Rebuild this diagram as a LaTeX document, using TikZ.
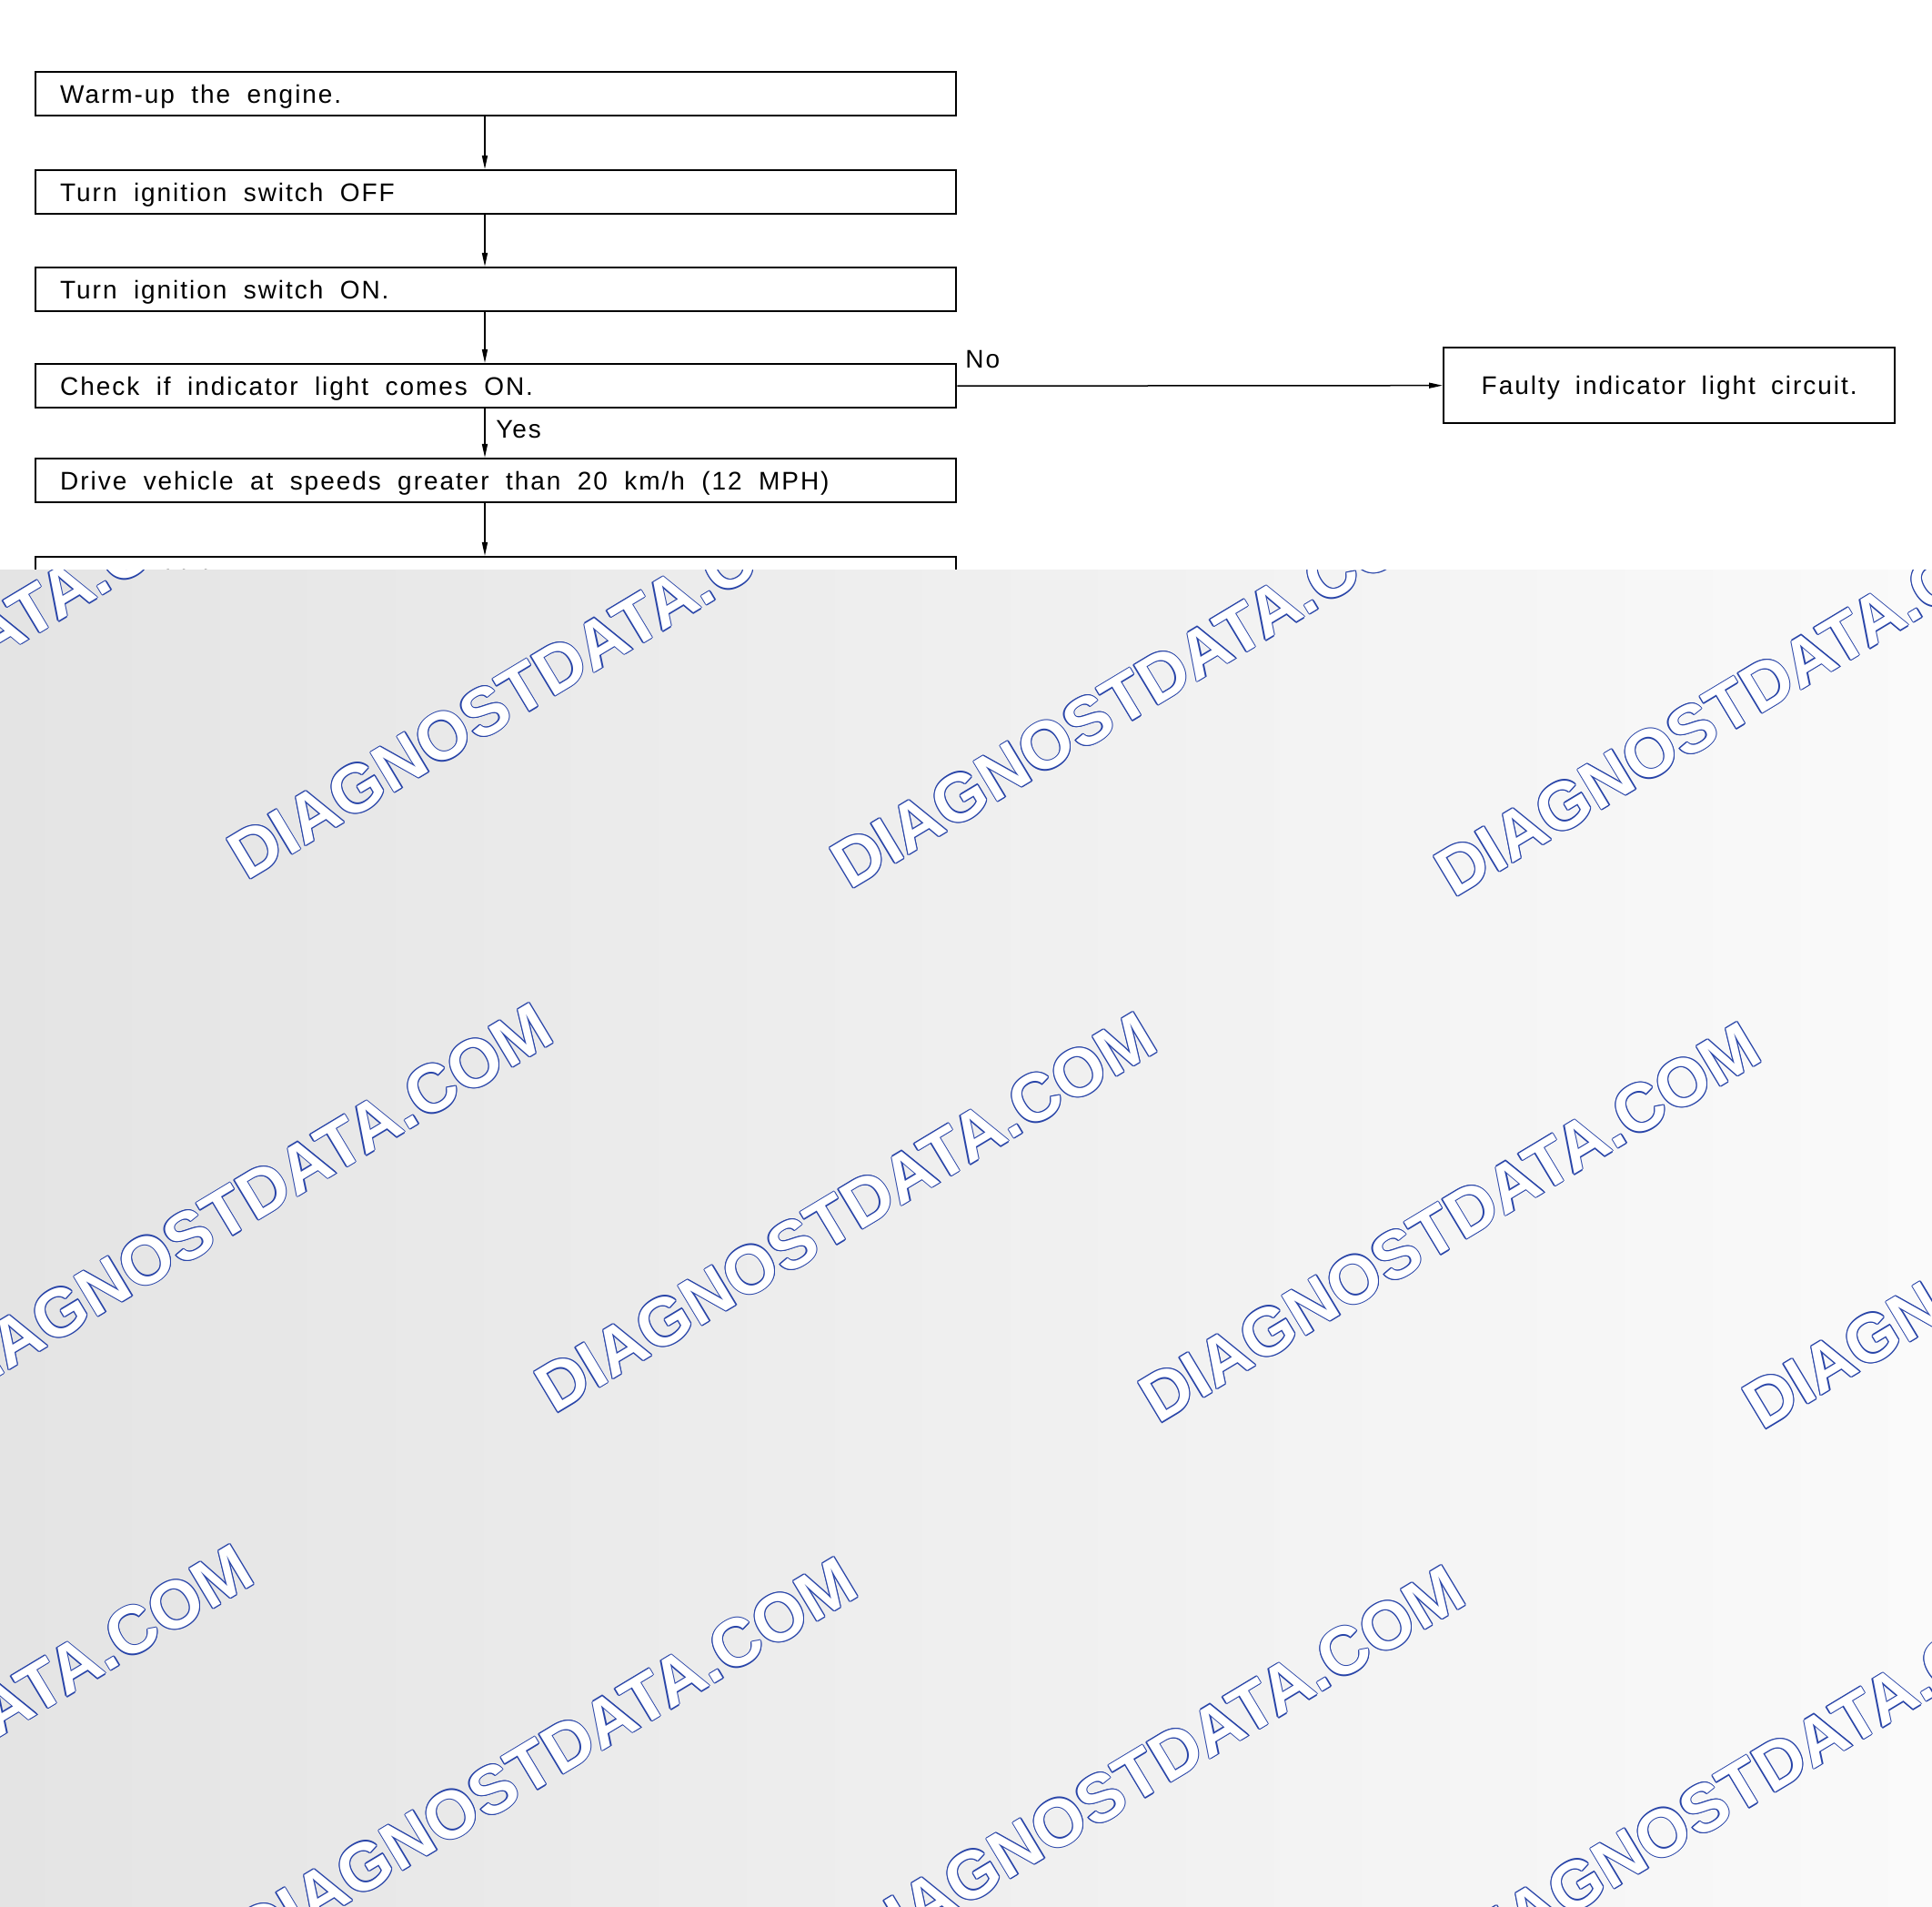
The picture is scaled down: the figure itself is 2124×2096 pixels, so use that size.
\documentclass[tikz,border=0pt]{standalone}
\usepackage{fontspec}
\setmainfont{Liberation Sans}
\newfontfamily\boxfont[LetterSpace=7]{Liberation Sans}
\usetikzlibrary{arrows.meta,calc}
\definecolor{wmblue}{RGB}{40,68,168}
\definecolor{shadeL}{RGB}{228,228,228}
\definecolor{shadeR}{RGB}{250,250,250}
\tikzset{
  txt/.style={font=\boxfont\fontsize{14}{16}\selectfont},
  stepbox/.style={txt, draw, line width=1.2pt, anchor=north west,
    minimum width=506pt, minimum height=24pt, inner xsep=13.5pt, inner ysep=0pt,
    text width=479pt, text height=10pt, text depth=0pt,
    execute at begin node={\spaceskip=9.2pt\xspaceskip=9.2pt}},
  faultbox/.style={txt, draw, line width=1.2pt,
    anchor=north west, minimum width=248pt, minimum height=41.5pt, inner sep=0pt,
    text height=10pt, text depth=0pt,
    execute at begin node={\spaceskip=8.6pt\xspaceskip=8.6pt}},
  arr/.style={line width=0.75pt, -{Triangle[length=7.5pt,width=3pt]}},
  lbl/.style={txt, anchor=base west, inner sep=0pt},
  wm/.style={anchor=base west, rotate=31, inner sep=0pt,
    font=\fontsize{37}{40}\selectfont\bfseries}
}
\begin{document}
\begin{tikzpicture}[x=0.5pt,y=-0.5pt]
\useasboundingbox (0,0) rectangle (2124,2096);
\fill[white] (0,0) rectangle (2124,2096);
% boxes
\node[stepbox] (b1) at (38,78)  {Warm-up the engine.};
\node[stepbox] (b2) at (38,186) {Turn ignition switch OFF};
\node[stepbox] (b3) at (38,293) {Turn ignition switch ON.};
\node[stepbox] (b4) at (38,399) {Check if indicator light comes ON.};
\node[stepbox] (b5) at (38,503) {Drive vehicle at speeds greater than 20 km/h (12 MPH)};
\node[stepbox] (b6) at (38,611) {Stop vehicle.};
\node[faultbox] (fault) at (1586,381) {Faulty indicator light circuit.};
% connectors
\coordinate (ax) at (533,0);
\draw[arr] (b1.south -| ax) -- (b2.north -| ax);
\draw[arr] (b2.south -| ax) -- (b3.north -| ax);
\draw[arr] (b3.south -| ax) -- (b4.north -| ax);
\draw[arr] (b4.south -| ax) -- (b5.north -| ax);
\draw[arr] (b5.south -| ax) -- (b6.north -| ax);
\draw[arr] (b4.east) -- (fault.west);
\node[lbl] (yes) at (545,482) {Yes};
\node[lbl] (no) at (1061,405) {No};
% grey overlay
\fill[left color=shadeL, right color=shadeR] (0,627) rectangle (2124,2096);
\begin{scope}
\clip (0,627) rectangle (2124,2096);
\foreach \px/\py [count=\k] in {-393/958, 271/969, 934/979, 1598/988,
    -55/1545, 609/1555, 1273/1566, 1937/1573,
    -384/2140, 280/2154, 948/2163, 1612/2174} {
  \foreach \a [count=\j] in {0,45,...,315}
    \node[wm, text=wmblue] (wm\k-\j) at ($(\px,\py)+(\a:0.6pt)$) {DIAGNOSTDATA.COM};
  \node[wm, text=white] (wm\k) at (\px,\py) {DIAGNOSTDATA.COM};
}
\end{scope}
\end{tikzpicture}
\end{document}
